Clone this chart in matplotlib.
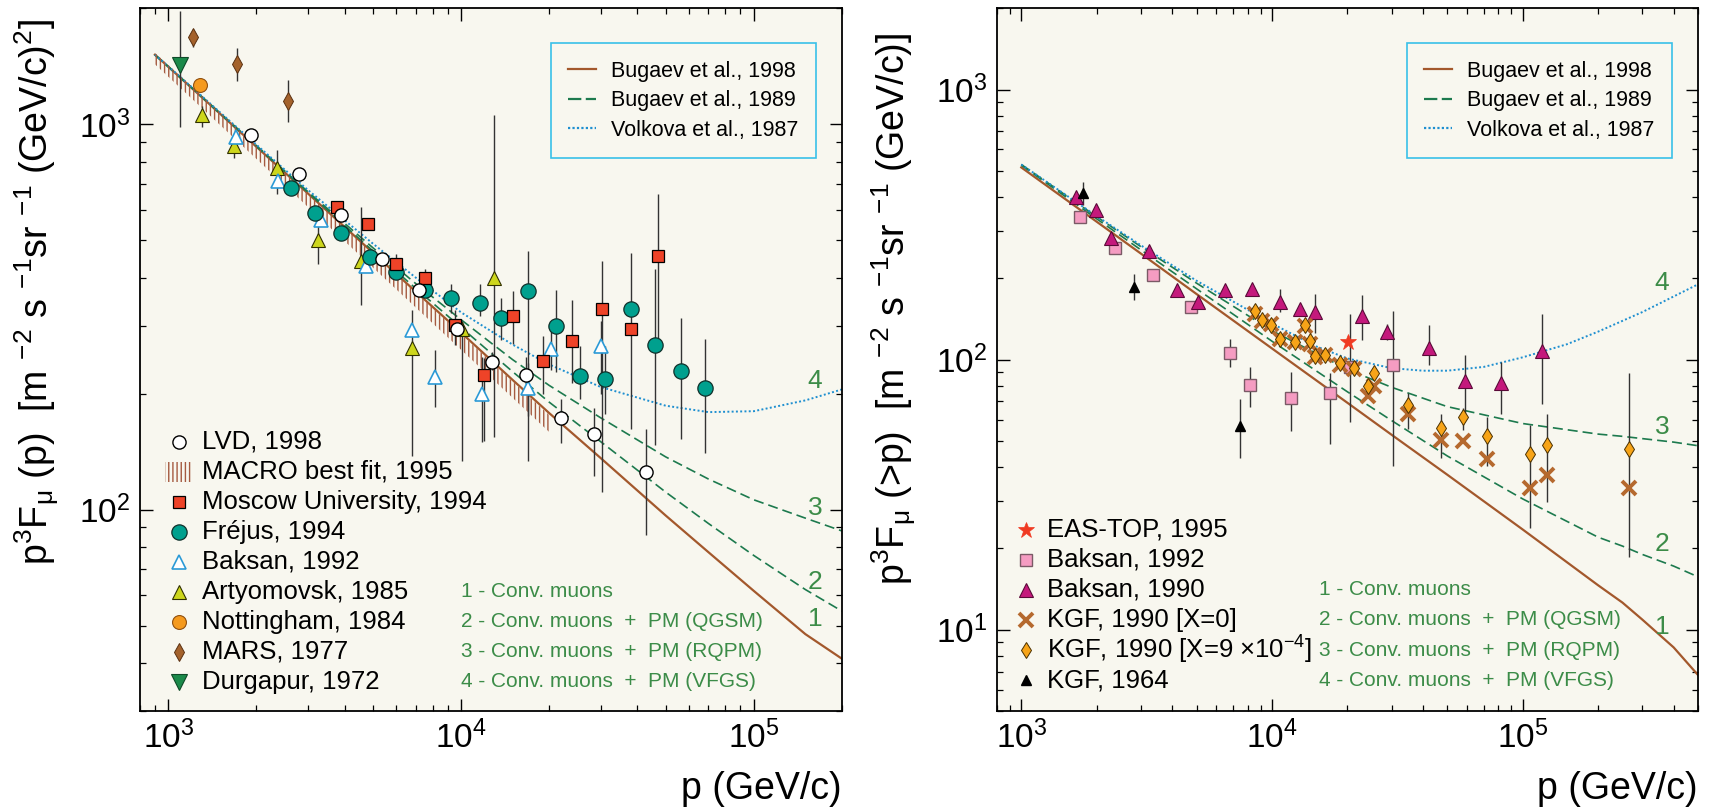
import matplotlib
matplotlib.use("Agg")
import matplotlib.pyplot as plt
from matplotlib.lines import Line2D
from matplotlib.patches import Rectangle
from matplotlib.ticker import NullFormatter, LogLocator

plt.rcParams['font.family'] = ['Liberation Sans', 'DejaVu Sans']
plt.rcParams['mathtext.fontset'] = 'custom'
plt.rcParams['mathtext.rm'] = 'Liberation Sans'
plt.rcParams['mathtext.it'] = 'Liberation Sans:italic'
plt.rcParams['mathtext.bf'] = 'Liberation Sans:bold'
plt.rcParams['mathtext.default'] = 'regular'
plt.rcParams['hatch.linewidth'] = 1.0

bg = '#f8f7ef'
c_conv = '#a3582c'
c_dash = '#1d7a4e'
c_dot = '#1e8fd0'
c_box = '#38c0e8'
c_txt = '#3c8c48'
c_err = '#333333'
c_macro = '#a55a40'

# ---------------- left panel: differential spectrum ----------------
th_p_l = [900, 1e3, 2e3, 3e3, 5e3, 7e3, 1e4, 1.5e4, 2e4, 3e4, 5e4, 7e4, 1e5, 1.5e5, 2e5]
conv_l = [1515, 1410, 874, 661, 464, 368, 288, 217, 178, 136, 96.5, 77.5, 61.5, 47.5, 41]
qgsm_l = [1515, 1410, 876, 665, 469, 375, 297, 228, 190, 150, 111, 92, 76, 62, 54.5]
rqpm_l = [1515, 1412, 880, 668, 478, 386, 311, 245, 210, 173, 137, 120, 106, 95, 88]
vfgs_l = [1515, 1414, 885, 675, 490, 400, 325, 268, 238, 208, 186, 179, 180, 192, 205]

macro_p = [889, 2.0e4]
macro_lo = [1444, 159]
macro_hi = [1546, 176]

lvd_p = [1910, 2785, 3880, 5350, 7190, 9660, 12730, 16700, 21870, 28460, 42700]
lvd_v = [940, 745, 582, 448, 371, 295, 242, 224, 173, 157, 125]
lvd_lo = [940, 745, 582, 448, 371, 295, 230, 200, 149, 122, 85.7]
lvd_hi = [940, 745, 582, 448, 371, 295, 257, 249, 194, 183, 162]

mos_p = [3784, 4819, 5984, 7551, 9528, 11990, 15070, 19050, 23930, 30200, 38200, 47200]
mos_v = [610, 552, 434, 398, 301, 223, 318, 243, 273, 331, 295, 455]
mos_lo = [610, 552, 434, 398, 267, 151, 269, 200, 213, 111, 295, 256]
mos_hi = [610, 552, 460, 420, 329, 248, 370, 282, 350, 441, 295, 659]

fre_p = [2630, 3170, 3880, 4890, 5980, 7550, 9250, 11590, 13650, 16950, 21030, 25530,
         31050, 38200, 46130, 56490, 68390]
fre_v = [685, 587, 523, 451, 414, 372, 355, 343, 315, 370, 299, 222, 218, 331, 267, 229, 207]
fre_lo = [685, 587, 523, 451, 414, 372, 323, 318, 275, 134, 227, 194, 177, 162, 147, 152, 140]
fre_hi = [685, 587, 523, 451, 414, 372, 386, 386, 355, 470, 372, 265, 265, 462, 421, 314, 277]

bk92_p = [1710, 2370, 3335, 4730, 6780, 8130, 11830, 16950, 20330, 30000]
bk92_v = [925, 711, 565, 428, 292, 221, 200, 207, 261, 265]
bk92_lo = [925, 711, 565, 428, 292, 185, 150, 175, 230, 200]
bk92_hi = [925, 711, 565, 428, 292, 259, 249, 240, 290, 309]

art_p = [1306, 1679, 2344, 3236, 4540, 6780, 10050, 13000]
art_v = [1057, 879, 770, 502, 441, 263, 294, 398]
art_lo = [985, 818, 659, 434, 339, 138, 134, 154]
art_hi = [1114, 925, 857, 556, 610, 329, 309, 1057]

not_p = [1279]
not_v = [1262]

mars_p = [1210, 1718, 2554]
mars_v = [1683, 1435, 1149]
mars_lo = [1589, 1292, 1015]
mars_hi = [1772, 1580, 1300]

dur_p = [1099]
dur_v = [1426]
dur_lo = [985]
dur_hi = [1973]

# ---------------- right panel: integral spectrum ----------------
th_p_r = [1e3, 2e3, 3e3, 5e3, 1e4, 2e4, 3e4, 5e4, 1e5, 2e5, 2.5e5, 3e5, 4e5, 5e5]
conv_r = [515, 324, 247, 175, 110, 69.2, 52.7, 37.5, 23.5, 14.6, 12.6, 10.9, 8.6, 6.8]
qgsm_r = [525, 332, 255, 183, 117, 76, 59.5, 44, 30.5, 22, 20.4, 19, 17.2, 15.7]
rqpm_r = [528, 338, 262, 192, 128, 92, 79, 67, 58, 53, 52, 51, 49.5, 48]
vfgs_p_r = [1e3, 2e3, 3e3, 5e3, 1e4, 1.5e4, 2e4, 3e4, 4e4, 5e4, 7e4, 1e5, 1.5e5, 2e5, 3e5, 5e5]
vfgs_r = [528, 340, 265, 196, 136, 112, 101, 93, 91, 91, 94, 102, 114, 127, 150, 190]

eas_p = [20100]
eas_v = [116]

b92_p = [1708, 2371, 3347, 4747, 6823, 8198, 11860, 17060, 20490, 30430]
b92_v = [336, 258, 206, 156, 106, 80.6, 72.4, 75.1, 94.2, 95.7]
b92_lo = [336, 258, 206, 156, 93.6, 66.6, 54.6, 48.8, 58.6, 40.5]
b92_hi = [336, 258, 206, 156, 119.6, 93.6, 89.7, 88.9, 148, 151]

b90_p = [1649, 1987, 2280, 3245, 4180, 5058, 6475, 8340, 10750, 12920, 14820, 22950,
         28650, 42240, 58640, 81660, 119500]
b90_v = [399, 358, 282, 252, 181, 163, 181, 182, 163, 154, 150, 145, 127, 110, 83.6, 82, 108]
b90_lo = [399, 358, 282, 252, 181, 163, 181, 182, 150, 154, 126, 118, 118, 95.5, 63, 63, 68.6]
b90_hi = [399, 358, 282, 252, 181, 163, 181, 182, 182, 154, 175, 173, 135, 134, 104, 98, 147]

kgf_p = [8586, 9162, 9891, 10770, 12410, 13530, 14230, 14820, 16310, 18610, 21310, 24210,
         25470, 34830, 47180, 57760, 71780, 107100, 125200, 266000]
kgf0_v = [148, 139, 136, 119, 116, 133, 114, 102, 104, 95.4, 92.6, 73.3, 80.0, 62.8,
          50.4, 50.0, 42.8, 33.6, 37.5, 33.4]
kgf9_v = [152, 140, 134, 119, 116, 134, 117, 103, 104, 97.5, 93.3, 80.0, 89.3, 68.1,
          56.0, 61.2, 52.0, 44.8, 48.2, 46.6]
kgf9_lo = [152, 140, 134, 119, 116, 134, 117, 103, 104, 97.5, 93.3, 80.0, 89.3, 55.2,
           43.3, 55, 40.4, 23.8, 29.7, 18.6]
kgf9_hi = [152, 140, 134, 119, 116, 134, 117, 103, 104, 97.5, 93.3, 80.0, 89.3, 75.1,
           62.8, 66, 61.5, 57.5, 62.8, 89.4]

k64_p = [1770, 2806, 7430]
k64_v = [413, 185, 57]
k64_lo = [374, 166, 43.4]
k64_hi = [456, 207, 71.7]

theory_labels = ['Bugaev et al., 1998', 'Bugaev et al., 1989', 'Volkova et al., 1987']
model_notes = ['1 - Conv. muons', '2 - Conv. muons  +  PM (QGSM)',
               '3 - Conv. muons  +  PM (RQPM)', '4 - Conv. muons  +  PM (VFGS)']
curve_ids = ['1', '2', '3', '4']
lab_l_p = [1.62e5, 1.62e5, 1.62e5, 1.62e5]
lab_l_v = [52, 65, 101, 215]
lab_r_p = [3.6e5, 3.6e5, 3.6e5, 3.6e5]
lab_r_v = [10.2, 20.7, 56.3, 193]


def style_axes(ax, xlim, ylim):
    ax.set_xscale('log')
    ax.set_yscale('log')
    ax.set_xlim(*xlim)
    ax.set_ylim(*ylim)
    ax.set_facecolor(bg)
    for s in ax.spines.values():
        s.set_linewidth(1.3)
    ax.xaxis.set_major_locator(LogLocator(base=10))
    ax.yaxis.set_major_locator(LogLocator(base=10))
    ax.xaxis.set_minor_formatter(NullFormatter())
    ax.yaxis.set_minor_formatter(NullFormatter())
    ax.tick_params(which='both', direction='in', top=True, right=True, labelsize=24)
    ax.tick_params(which='major', length=9, width=1.0, pad=7)
    ax.tick_params(which='minor', length=4.5, width=0.9)


def errpts(ax, p, v, lo, hi, **kw):
    yerr = [[a - b for a, b in zip(v, lo)], [b - a for a, b in zip(v, hi)]]
    ax.errorbar(p, v, yerr=yerr, fmt='none', ecolor=c_err, elinewidth=1.0, capsize=0, zorder=3)
    ax.plot(p, v, ls='none', zorder=4, **kw)


def theory(ax, p, c1, c2, c3, p4, c4):
    ax.plot(p, c1, color=c_conv, lw=1.6, zorder=2)
    ax.plot(p, c2, color=c_dash, lw=1.2, ls=(0, (6, 3)), zorder=2)
    ax.plot(p, c3, color=c_dash, lw=1.2, ls=(0, (6, 3)), zorder=2)
    ax.plot(p4, c4, color=c_dot, lw=1.4, ls=(0, (1, 1.2)), zorder=2)
    h = [Line2D([], [], color=c_conv, lw=1.6),
         Line2D([], [], color=c_dash, lw=1.6, ls=(0, (6, 2))),
         Line2D([], [], color=c_dot, lw=1.6, ls=(0, (1, 1)))]
    leg = ax.legend(h, theory_labels, loc='upper right', bbox_to_anchor=(0.963, 0.950),
                    fontsize=15.5, frameon=True, fancybox=False, edgecolor=c_box,
                    facecolor=bg, framealpha=1, borderpad=0.8, labelspacing=0.4,
                    handlelength=1.3, handletextpad=0.7, borderaxespad=0)
    leg.get_frame().set_linewidth(1.2)


def key(ax, entries, x_m, x_t, y0, dy, fs=18.5):
    for i, (kw, label) in enumerate(entries):
        y = y0 - i * dy
        if kw is None:
            ax.add_patch(Rectangle((x_m - 0.02, y - 0.0145), 0.04, 0.029, transform=ax.transAxes,
                                   facecolor='none', edgecolor=c_macro, hatch='||||', lw=0))
        else:
            ax.plot([x_m], [y], ls='none', transform=ax.transAxes, clip_on=False, **kw)
        ax.text(x_t, y, label, transform=ax.transAxes, fontsize=fs, va='center', ha='left')


def notes(ax, x, y0, dy):
    for i, t in enumerate(model_notes):
        ax.text(x, y0 - i * dy, t, transform=ax.transAxes, fontsize=15, color=c_txt,
                va='center', ha='left')


fig = plt.figure(figsize=(17.21, 8.11), dpi=100)
fig.patch.set_facecolor('white')

# ---------- left ----------
axl = fig.add_axes([0.0813, 0.1233, 0.4079, 0.8665])
style_axes(axl, (800, 2e5), (30, 2000))
theory(axl, th_p_l, conv_l, qgsm_l, rqpm_l, th_p_l, vfgs_l)
axl.fill_between(macro_p, macro_lo, macro_hi, facecolor='none', edgecolor=c_macro,
                 hatch='||||', lw=0, zorder=2)

k_lvd = dict(marker='o', ms=9.5, mfc='white', mec='black', mew=1.0)
k_mos = dict(marker='s', ms=9, mfc='#ee4328', mec='black', mew=0.9)
k_fre = dict(marker='o', ms=11, mfc='#00a08e', mec='#10302a', mew=0.9)
k_bk92 = dict(marker='^', ms=9.5, mfc='white', mec='#2b9ad6', mew=1.2)
k_art = dict(marker='^', ms=9.5, mfc='#cdd61c', mec='#303000', mew=0.8)
k_not = dict(marker='o', ms=10, mfc='#f59a1e', mec='#905010', mew=0.8)
k_mars = dict(marker='d', ms=9, mfc='#a4622c', mec='#5a3010', mew=0.7)
k_dur = dict(marker='v', ms=11, mfc='#1b8a4a', mec='#0e4a28', mew=0.8)

errpts(axl, mars_p, mars_v, mars_lo, mars_hi, **k_mars)
errpts(axl, dur_p, dur_v, dur_lo, dur_hi, **k_dur)
errpts(axl, not_p, not_v, not_v, not_v, **k_not)
errpts(axl, art_p, art_v, art_lo, art_hi, **k_art)
errpts(axl, bk92_p, bk92_v, bk92_lo, bk92_hi, **k_bk92)
errpts(axl, fre_p, fre_v, fre_lo, fre_hi, **k_fre)
errpts(axl, mos_p, mos_v, mos_lo, mos_hi, **k_mos)
errpts(axl, lvd_p, lvd_v, lvd_lo, lvd_hi, **k_lvd)

for t, p, v in zip(curve_ids, lab_l_p, lab_l_v):
    axl.text(p, v, t, fontsize=19, color=c_txt, ha='center', va='center')

key(axl, [(k_lvd, 'LVD, 1998'), (None, 'MACRO best fit, 1995'),
          (k_mos, 'Moscow University, 1994'), (k_fre, 'Fréjus, 1994'),
          (k_bk92, 'Baksan, 1992'), (k_art, 'Artyomovsk, 1985'),
          (k_not, 'Nottingham, 1984'), (k_mars, 'MARS, 1977'),
          (k_dur, 'Durgapur, 1972')], 0.056, 0.088, 0.383, 0.0427)
notes(axl, 0.458, 0.1697, 0.0427)

axl.set_ylabel(r'p$^3$F$_{\mu}$ (p)  [m $^{-2}$ s $^{-1}$sr $^{-1}$ (GeV/c)$^2$]', fontsize=27, loc='top')
axl.yaxis.set_label_coords(-0.112, 0.985)
axl.set_xlabel('p (GeV/c)', fontsize=27, loc='right')
axl.xaxis.set_label_coords(1.0, -0.085)

# ---------- right ----------
axr = fig.add_axes([0.5793, 0.1233, 0.4073, 0.8665])
style_axes(axr, (800, 5e5), (5, 2000))
theory(axr, th_p_r, conv_r, qgsm_r, rqpm_r, vfgs_p_r, vfgs_r)

k_eas = dict(marker='*', ms=12, mfc='#f03a22', mec='#f03a22', mew=0.5)
k_b92 = dict(marker='s', ms=9, mfc='#f59cc2', mec='#7a5a66', mew=1.0)
k_b90 = dict(marker='^', ms=10, mfc='#c4197c', mec='#5a0a38', mew=0.8)
k_kgf0 = dict(marker='x', ms=10, mew=2.8, color='#b5692e')
k_kgf9 = dict(marker='d', ms=8.5, mfc='#f7a418', mec='#4a3000', mew=0.7)
k_k64 = dict(marker='^', ms=7, color='black')

errpts(axr, b92_p, b92_v, b92_lo, b92_hi, **k_b92)
errpts(axr, b90_p, b90_v, b90_lo, b90_hi, **k_b90)
errpts(axr, k64_p, k64_v, k64_lo, k64_hi, **k_k64)
errpts(axr, kgf_p, kgf0_v, kgf0_v, kgf0_v, **k_kgf0)
errpts(axr, kgf_p, kgf9_v, kgf9_lo, kgf9_hi, **k_kgf9)
errpts(axr, eas_p, eas_v, eas_v, eas_v, **k_eas)

for t, p, v in zip(curve_ids, lab_r_p, lab_r_v):
    axr.text(p, v, t, fontsize=19, color=c_txt, ha='center', va='center')

key(axr, [(k_eas, 'EAS-TOP, 1995'), (k_b92, 'Baksan, 1992'), (k_b90, 'Baksan, 1990'),
          (k_kgf0, 'KGF, 1990 [X=0]'), (k_kgf9, r'KGF, 1990 [X=9 $\times$10$^{-4}$]'),
          (k_k64, 'KGF, 1964')], 0.042, 0.072, 0.2576, 0.0427)
notes(axr, 0.459, 0.1722, 0.0427)

axr.set_ylabel(r'p$^3$F$_{\mu}$ (>p)  [m $^{-2}$ s $^{-1}$sr $^{-1}$ (GeV/c)]', fontsize=27, loc='top')
axr.yaxis.set_label_coords(-0.112, 0.965)
axr.set_xlabel('p (GeV/c)', fontsize=27, loc='right')
axr.xaxis.set_label_coords(1.0, -0.085)

fig.savefig('out.png', dpi=100)
